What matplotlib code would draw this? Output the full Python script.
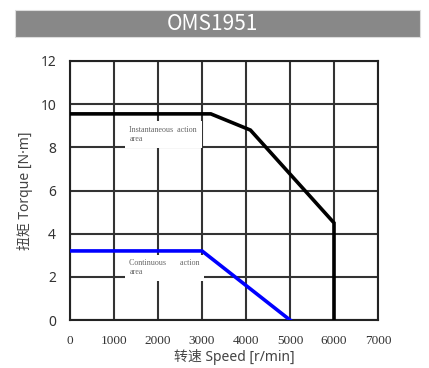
import matplotlib
matplotlib.use("Agg")
import matplotlib.pyplot as plt
from matplotlib.patches import Rectangle

plt.rcParams['font.family'] = ['Noto Sans CJK SC', 'DejaVu Sans']

# peak (instantaneous) torque curve
peak_speed = [0, 3200, 4100, 6000, 6000]
peak_torque = [9.55, 9.55, 8.8, 4.5, 0]

# rated (continuous) torque curve
cont_speed = [0, 3000, 5000]
cont_torque = [3.2, 3.2, 0]

x_ticks = [0, 1000, 2000, 3000, 4000, 5000, 6000, 7000]
y_ticks = [0, 2, 4, 6, 8, 10, 12]

label_font = ['Noto Sans', 'Noto Sans CJK SC']

fig = plt.figure(figsize=(4.29, 3.68), dpi=100)

# title bar
fig.patches.append(Rectangle((15 / 429, 1 - 37 / 368), 405 / 429, 27 / 368,
                             transform=fig.transFigure, facecolor="#888888",
                             edgecolor="#dddddd", linewidth=0.8))
fig.text(212 / 429, 1 - 23.5 / 368, "OMS1951", color="white", fontsize=15,
         ha="center", va="center")

ax = fig.add_axes([70 / 429, 1 - 320 / 368, 308 / 429, 259 / 368])
ax.set_xlim(0, 7000)
ax.set_ylim(0, 12)
ax.set_xticks(x_ticks)
ax.set_yticks(y_ticks)
ax.grid(True, color="#333333", linewidth=1.5)
ax.set_axisbelow(True)
ax.tick_params(axis="x", length=0, pad=11)
ax.tick_params(axis="y", length=0, pad=10)
for lbl in ax.get_xticklabels():
    lbl.set_fontfamily("Liberation Serif")
    lbl.set_fontsize(9.5)
    lbl.set_color("#333333")
for lbl in ax.get_yticklabels():
    lbl.set_fontfamily(label_font)
    lbl.set_fontsize(10)
    lbl.set_color("#333333")
for s in ax.spines.values():
    s.set_color("#222222")
    s.set_linewidth(1.5)

ax.plot(peak_speed, peak_torque, color="black", linewidth=2.6, zorder=4,
        solid_joinstyle="miter")
ax.plot(cont_speed, cont_torque, color="#0000ff", linewidth=2.6, zorder=4,
        solid_joinstyle="miter")

ax.text(1350, 9.0, "Instantaneous  action\narea", fontsize=5.8,
        family="Liberation Serif", color="#666666", va="top", ha="left",
        linespacing=1.2, zorder=3,
        bbox=dict(facecolor="white", edgecolor="none", pad=3.5))
ax.text(1350, 2.82, "Continuous       action\narea", fontsize=5.8,
        family="Liberation Serif", color="#666666", va="top", ha="left",
        linespacing=1.2, zorder=3,
        bbox=dict(facecolor="white", edgecolor="none", pad=3))

ax.set_xlabel("转速 Speed [r/min]", fontsize=10, color="#444444",
              family=label_font)
ax.xaxis.set_label_coords(0.535, -0.113)
ax.set_ylabel("扭矩 Torque [N·m]", fontsize=10, color="#444444", labelpad=5,
              family=label_font)

fig.savefig("out.png", dpi=100)
